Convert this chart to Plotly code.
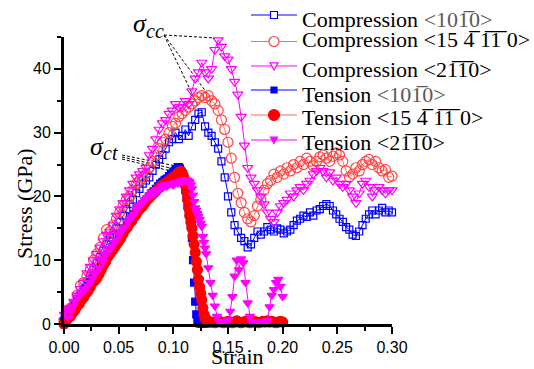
import plotly.graph_objects as go

# ---------------- data ----------------
C_STRAIN = [
    0.000, 0.003, 0.006, 0.009, 0.012, 0.015, 0.018, 0.021, 0.024, 0.027,
    0.030, 0.033, 0.036, 0.039, 0.042, 0.045, 0.048, 0.051, 0.054, 0.057,
    0.060, 0.063, 0.066, 0.069, 0.072, 0.075, 0.078, 0.081, 0.084, 0.087,
    0.090, 0.093, 0.096, 0.099, 0.102, 0.105, 0.108, 0.111, 0.114, 0.117,
    0.120, 0.123, 0.126, 0.129, 0.132, 0.135, 0.138, 0.141, 0.144, 0.147,
    0.150, 0.153, 0.156, 0.159, 0.162, 0.165, 0.168, 0.171, 0.174, 0.177,
    0.180, 0.183, 0.186, 0.189, 0.192, 0.195, 0.198, 0.201, 0.204, 0.207,
    0.210, 0.213, 0.216, 0.219, 0.222, 0.225, 0.228, 0.231, 0.234, 0.237,
    0.240, 0.243, 0.246, 0.249, 0.252, 0.255, 0.258, 0.261, 0.264, 0.267,
    0.270, 0.273, 0.276, 0.279, 0.282, 0.285, 0.288, 0.291, 0.294, 0.297,
    0.300,
]

COMP_1010 = [
    0.5, 1.5, 2.0, 2.5, 3.5, 4.5, 5.5, 6.5, 7.5, 8.5,
    9.5, 10.5, 11.5, 12.5, 13.5, 14.0, 15.0, 16.0, 17.0, 18.0,
    18.8, 19.5, 20.5, 21.2, 22.0, 22.5, 23.0, 24.0, 25.0, 25.8,
    26.5, 27.5, 28.5, 29.0, 30.0, 29.0, 29.5, 30.5, 29.5, 31.0,
    32.0, 33.0, 33.2, 31.0, 30.0, 29.5, 28.5, 27.5, 25.5, 23.0,
    20.0, 17.5, 15.5, 14.5, 13.5, 13.0, 12.0, 12.5, 13.5, 14.5,
    14.0, 14.5, 15.2, 14.8, 14.5, 15.0, 14.8, 14.2, 14.5, 14.8,
    15.5, 16.2, 16.5, 17.0, 16.8, 17.5, 17.0, 17.8, 18.0, 18.5,
    18.8, 18.5, 17.8, 17.2, 16.5, 16.0, 15.2, 14.8, 14.0, 13.8,
    14.5, 15.5, 16.5, 17.2, 17.8, 17.2, 17.8, 18.2, 17.5, 17.8,
    17.5,
]

COMP_15_4_11_0 = [
    0.5, 1.5, 2.5, 3.0, 4.5, 6.0, 6.5, 7.5, 8.5, 10.0,
    11.0, 12.0, 13.5, 14.8, 14.5, 15.5, 16.5, 17.5, 18.5, 19.5,
    20.0, 21.0, 22.0, 22.5, 23.0, 23.5, 24.5, 25.5, 26.5, 27.5,
    28.5, 29.0, 30.0, 31.0, 31.5, 32.5, 33.0, 33.5, 34.0, 34.5,
    35.0, 35.5, 35.8, 35.5, 35.8, 35.0, 34.5, 33.5, 32.0, 30.5,
    28.5, 26.0, 23.0, 20.5, 19.0, 17.5, 16.5, 16.0, 17.0, 18.5,
    19.5, 21.0, 22.0, 22.5, 23.5, 23.0, 24.0, 23.5, 24.5, 24.0,
    25.0, 24.5, 25.5, 25.0, 26.0, 25.5, 24.8, 25.5, 26.2, 26.5,
    26.0, 25.5, 26.3, 26.8, 26.5, 25.5, 24.0, 23.0, 23.5, 24.5,
    24.0, 25.0, 25.5, 25.8, 25.0, 25.5, 24.5, 24.0, 24.2, 23.0,
    23.2,
]

COMP_2110 = [
    0.5, 2.0, 2.5, 3.5, 4.5, 5.5, 6.5, 8.0, 9.0, 10.0,
    11.0, 12.0, 13.0, 14.0, 14.5, 15.5, 17.0, 18.0, 19.0, 20.0,
    21.0, 22.0, 23.0, 23.5, 24.0, 24.5, 26.5, 27.5, 29.0, 30.5,
    31.5, 32.0, 33.0, 33.5, 34.5, 34.0, 34.0, 35.0, 34.5, 36.5,
    38.5, 39.5, 41.0, 39.5, 38.5, 40.0, 43.0, 44.5, 43.5, 42.0,
    41.5, 40.0, 38.0, 36.0, 32.5, 28.0, 24.5, 23.0, 22.0, 21.0,
    20.0, 18.8, 17.5, 16.5, 16.0, 17.5, 18.5, 19.0, 19.5, 20.5,
    20.0, 21.0, 21.5, 21.0, 22.0, 22.5, 23.5, 24.0, 24.5, 24.0,
    23.0, 23.8, 22.5, 23.0, 22.0, 21.5, 22.0, 21.0, 20.0, 19.0,
    20.5, 22.0, 22.5, 21.5, 20.0, 21.0, 21.5, 21.0, 20.5, 21.0,
    21.0,
]

T_STRAIN = [
    0.000, 0.002, 0.004, 0.006, 0.008, 0.010, 0.012, 0.014, 0.016, 0.018,
    0.020, 0.022, 0.024, 0.026, 0.028, 0.030, 0.032, 0.034, 0.036, 0.038,
    0.040, 0.042, 0.044, 0.046, 0.048, 0.050, 0.052, 0.054, 0.056, 0.058,
    0.060, 0.062, 0.064, 0.066, 0.068, 0.070, 0.072, 0.074, 0.076, 0.078,
    0.080, 0.082, 0.084, 0.086, 0.088, 0.090, 0.092, 0.094, 0.096, 0.098,
    0.100, 0.102, 0.104,
    0.105, 0.106, 0.107, 0.108, 0.109, 0.110, 0.111, 0.112, 0.113, 0.114,
    0.115, 0.116, 0.117, 0.118, 0.119, 0.120, 0.121, 0.122, 0.123, 0.124,
    0.125, 0.126, 0.127, 0.128, 0.129, 0.130,
    0.132, 0.134, 0.136, 0.138, 0.140, 0.142, 0.144, 0.146, 0.148, 0.150,
    0.152, 0.154, 0.156, 0.158, 0.160, 0.162, 0.164, 0.166, 0.168, 0.170,
    0.172, 0.174, 0.176, 0.178, 0.180, 0.182, 0.184, 0.186, 0.188, 0.190,
    0.192, 0.194, 0.196, 0.198, 0.200,
]

TENS_1010 = [
    0.5, 1.0, 1.5, 2.0, 2.5, 3.0, 3.5, 4.0, 4.5, 5.0,
    5.5, 6.0, 6.5, 7.0, 7.5, 8.0, 8.5, 9.0, 9.5, 10.2,
    10.8, 11.5, 12.0, 12.5, 13.0, 13.5, 14.0, 14.5, 15.0, 15.5,
    16.2, 16.8, 17.2, 17.6, 18.0, 18.4, 18.8, 19.2, 19.6, 20.0,
    20.5, 20.8, 21.2, 21.6, 22.0, 22.3, 22.6, 22.8, 23.2, 23.6,
    23.9, 24.2, 24.6,
    24.6, 24.4, 24.0, 23.5, 22.8, 22.0, 21.0, 20.0, 19.0, 18.0,
    17.0, 15.5, 13.5, 10.0, 6.5, 3.5, 1.5, 0.5, 0.2, 0.1,
    0.1, 0.1, 0.1, 0.1, 0.1, 0.1,
]

TENS_15_4_11_0 = [
    0.0, 0.5, 1.0, 1.2, 1.8, 2.2, 2.8, 3.2, 3.8, 4.2,
    4.8, 5.2, 5.8, 6.5, 6.8, 7.2, 7.8, 8.5, 9.2, 9.8,
    10.5, 11.0, 11.5, 12.0, 12.5, 13.0, 13.5, 14.2, 14.8, 15.2,
    15.8, 16.2, 16.8, 17.2, 17.8, 18.2, 18.5, 19.0, 19.5, 19.8,
    20.2, 20.5, 20.8, 21.2, 21.5, 21.8, 22.0, 22.2, 22.5, 22.8,
    23.0, 23.3, 23.6,
    23.8, 23.8, 23.9, 23.7, 23.2, 22.8, 22.0, 20.8, 19.5, 18.2,
    17.0, 16.0, 15.0, 13.8, 12.5, 11.2, 9.8, 8.5, 7.0, 5.8,
    4.8, 3.8, 2.5, 1.5, 1.0, 0.7,
    0.4, 0.3, 0.3, 0.2, 0.3, 0.4, 0.3, 0.2, 0.3, 0.4,
    0.3, 0.2, 0.3, 0.5, 0.3, 0.2, 0.3, 0.4, 0.3, 0.2,
    0.3, 0.4, 0.3, 0.2, 0.3, 0.4, 0.3, 0.5, 0.3, 0.4,
    0.3, 0.2, 0.3, 0.4, 0.3,
]

TENS_2110 = [
    1.5, 2.5, 1.0, 2.0, 2.8, 3.5, 4.2, 4.5, 5.0, 5.2,
    5.5, 6.0, 6.5, 7.2, 7.8, 8.2, 8.8, 10.2, 9.8, 10.8,
    11.2, 11.8, 12.2, 12.8, 13.2, 14.0, 14.5, 14.8, 15.2, 16.0,
    16.5, 16.8, 17.2, 18.0, 18.5, 18.6, 19.0, 19.5, 19.8, 20.2,
    20.6, 20.3, 21.0, 20.8, 21.2, 21.6, 21.8, 21.6, 21.9, 22.0,
    21.8, 22.2, 22.1,
    22.3, 22.2, 22.4, 22.3, 22.5, 22.6, 22.5, 22.6, 22.5, 22.4,
    22.2, 21.8, 21.2, 20.2, 19.2, 18.2, 17.8, 17.3, 16.9, 16.4,
    15.8, 15.3, 13.7, 12.8, 11.9, 11.0,
    8.8, 6.5, 4.5, 2.8, 1.2, 0.4, 0.2, 0.3, 0.2, 0.6,
    2.0, 4.3, 7.5, 10.0, 8.5, 10.2, 9.6, 6.5, 3.3, 1.2,
    0.3, 0.2, 0.3, 0.2, 0.3, 0.2, 0.3, 0.5, 2.7, 4.5,
    5.4, 6.5, 7.0, 5.9, 4.3,
]

X_TICKS = [0.00, 0.05, 0.10, 0.15, 0.20, 0.25, 0.30]
X_TICK_LABELS = ["0.00", "0.05", "0.10", "0.15", "0.20", "0.25", "0.30"]
Y_TICKS = [0, 10, 20, 30, 40]
Y_TICK_LABELS = ["0", "10", "20", "30", "40"]

BAR = "\u0305"  # combining overline


def OL(s):
    return "".join(c + BAR for c in s)


GRAY = "<span style='color:#5a5a5a'>&lt;10" + OL("1") + "0&gt;</span>"
LABELS = [
    "Compression " + GRAY,
    "Compression &lt;15 " + OL("4") + " " + OL("11") + " 0&gt;",
    "Compression &lt;2" + OL("1") + OL("1") + "0&gt;",
    "Tension " + GRAY,
    "Tension &lt;15 " + OL("4") + " " + OL("11") + " 0&gt;",
    "Tension &lt;2" + OL("1") + OL("1") + "0&gt;",
]

SERIES = [
    dict(x=C_STRAIN, y=COMP_1010, symbol="square-open", size=7, color="#0000FF", line="#0000FF"),
    dict(x=C_STRAIN, y=COMP_15_4_11_0, symbol="circle-open", size=10, color="#FF4545", line="#FF6A6A"),
    dict(x=C_STRAIN, y=COMP_2110, symbol="triangle-down-open", size=9, color="#FF00FF", line="#FF00FF"),
    dict(x=T_STRAIN[:len(TENS_1010)], y=TENS_1010, symbol="square", size=7, color="#0000FF", line="#0000FF"),
    dict(x=T_STRAIN, y=TENS_15_4_11_0, symbol="circle", size=10, color="#FF0000", line="#FF6A6A"),
    dict(x=T_STRAIN, y=TENS_2110, symbol="triangle-down", size=8, color="#FF00FF", line="#FF00FF"),
]

# ---------------- layout geometry ----------------
W, H = 534, 369
ML, MR, MT, MB = 64, 142, 37, 45
PW, PH = W - ML - MR, H - MT - MB
X_RANGE = [0, 0.30]
Y_RANGE = [0, 45]
SERIF = "Liberation Serif, Times New Roman, serif"
SANS = "Liberation Sans, Arial, sans-serif"


def px2x(p):
    return (p - ML) / PW


def py2y(p):
    return (H - MB - p) / PH


fig = go.Figure()
for s in SERIES:
    fig.add_trace(go.Scatter(
        x=s["x"], y=s["y"], mode="lines+markers", showlegend=False, cliponaxis=False,
        line=dict(color=s["line"], width=1),
        marker=dict(symbol=s["symbol"], size=s["size"], color=s["color"],
                    line=dict(color=s["color"], width=1.2)),
    ))

shapes = []
annotations = []

# dashed leader lines (pixel positions of the annotation artwork)
CC_FROM = (164, 35)
CC_TO = [(215, 38), (198, 106), (207, 93)]
CT_FROM = [(122, 155), (122, 157), (122, 159)]
CT_TO = [(176, 166), (179, 170), (183, 174)]
for (x1, y1) in CC_TO:
    shapes.append(dict(type="line", xref="paper", yref="paper",
                       x0=px2x(CC_FROM[0]), y0=py2y(CC_FROM[1]), x1=px2x(x1), y1=py2y(y1),
                       line=dict(color="black", width=1, dash="3px,2px"), layer="below"))
for (x0, y0), (x1, y1) in zip(CT_FROM, CT_TO):
    shapes.append(dict(type="line", xref="paper", yref="paper",
                       x0=px2x(x0), y0=py2y(y0), x1=px2x(x1), y1=py2y(y1),
                       line=dict(color="black", width=1, dash="3px,2px"), layer="below"))

# sigma labels
for txt, x, y, size in [("σ", 131, 24, 26), ("cc", 144, 31, 20), ("σ", 88, 146, 26), ("ct", 101, 153, 20)]:
    annotations.append(dict(text="<i>" + txt + "</i>", xref="paper", yref="paper",
                            x=px2x(x), y=py2y(y), xanchor="left", yanchor="middle",
                            showarrow=False, font=dict(family=SERIF, size=size, color="black")))

# manual legend
LEG_MARK_Y = [15, 41.5, 66, 90, 115, 140]
LEG_TEXT_Y = [19.5, 39, 69, 94, 117.5, 142.5]
LEG_LINE_X = (251, 297)
LEG_MARK_X = 274
LEG_TEXT_X = 300
LEG_SIZES = [7, 10, 8, 6, 11, 7]


def marker_shape(sym, cx, cy, size, color):
    h = size / 2.0
    filled = not sym.endswith("open")
    base = dict(xref="paper", yref="paper", line=dict(color=color, width=1.2),
                fillcolor=color if filled else "white", layer="above")
    if sym.startswith("square"):
        base.update(type="rect", x0=px2x(cx - h), x1=px2x(cx + h), y0=py2y(cy + h), y1=py2y(cy - h))
    elif sym.startswith("circle"):
        base.update(type="circle", x0=px2x(cx - h), x1=px2x(cx + h), y0=py2y(cy + h), y1=py2y(cy - h))
    else:
        pts = [(cx - h, cy - h * 0.8), (cx + h, cy - h * 0.8), (cx, cy + h)]
        path = "M" + " L".join("%f,%f" % (px2x(a), py2y(b)) for a, b in pts) + " Z"
        base.update(type="path", path=path)
    return base


for i, s in enumerate(SERIES):
    shapes.append(dict(type="line", xref="paper", yref="paper",
                       x0=px2x(LEG_LINE_X[0]), x1=px2x(LEG_LINE_X[1]),
                       y0=py2y(LEG_MARK_Y[i]), y1=py2y(LEG_MARK_Y[i]),
                       line=dict(color=s["line"], width=1.2), layer="above"))
    shapes.append(marker_shape(s["symbol"], LEG_MARK_X, LEG_MARK_Y[i], LEG_SIZES[i], s["color"]))
    annotations.append(dict(text=LABELS[i], xref="paper", yref="paper",
                            x=px2x(LEG_TEXT_X), y=py2y(LEG_TEXT_Y[i]), xanchor="left", yanchor="middle",
                            showarrow=False, font=dict(family=SERIF, size=22, color="black")))

# axis titles
annotations.append(dict(text="Stress (GPa)", xref="paper", yref="paper", x=px2x(24), y=py2y(204),
                        textangle=-90, showarrow=False, xanchor="center", yanchor="middle",
                        font=dict(family=SERIF, size=22, color="black")))
annotations.append(dict(text="Strain", xref="paper", yref="paper", x=px2x(237), y=py2y(356),
                        showarrow=False, xanchor="center", yanchor="middle", borderpad=0,
                        font=dict(family=SERIF, size=22, color="black")))

axis_common = dict(showgrid=False, zeroline=False, showline=True, linecolor="black", linewidth=3,
                   ticks="outside", ticklen=7, tickwidth=2, tickcolor="black",
                   tickfont=dict(family=SANS, size=16, color="black"))

fig.update_layout(
    width=W, height=H,
    margin=dict(l=ML, r=MR, t=MT, b=MB, pad=0, autoexpand=False),
    paper_bgcolor="white", plot_bgcolor="rgba(0,0,0,0)",
    showlegend=False,
    xaxis=dict(range=X_RANGE, tickmode="array", tickvals=X_TICKS, ticktext=X_TICK_LABELS,
               minor=dict(tick0=0, dtick=0.025, ticks="outside", ticklen=4, tickwidth=2, tickcolor="black"),
               **axis_common),
    yaxis=dict(range=Y_RANGE, tickmode="array", tickvals=Y_TICKS, ticktext=Y_TICK_LABELS,
               minor=dict(tick0=0, dtick=5, ticks="outside", ticklen=4, tickwidth=2, tickcolor="black"),
               **axis_common),
    shapes=shapes,
    annotations=annotations,
)

fig.write_html("out.html", config={"displayModeBar": False},
               post_script="document.body.style.margin='0';document.body.style.overflow='hidden';")
